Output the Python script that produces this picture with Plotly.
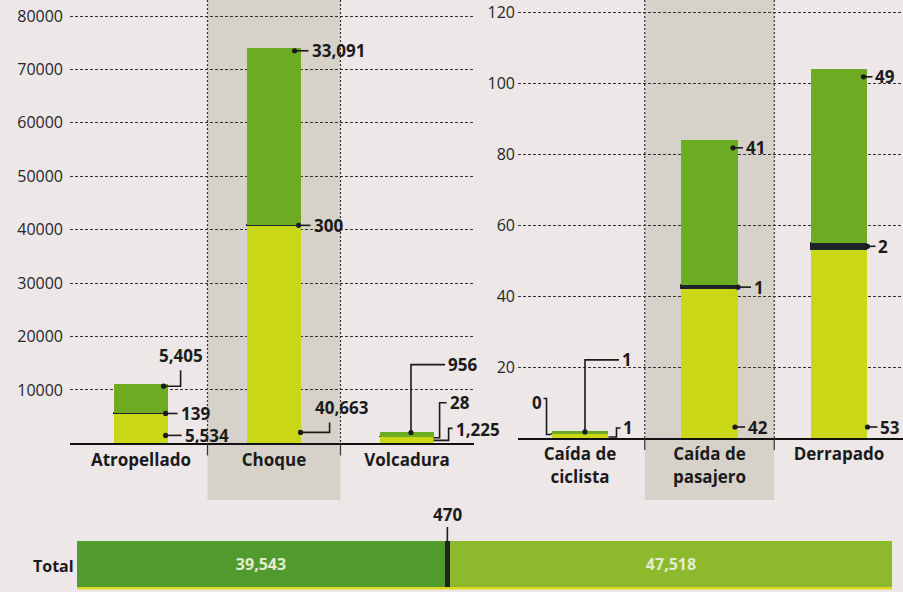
import plotly.graph_objects as go

W, H = 903, 592

# ---------------- data ----------------
cats_left = ["Atropellado", "Choque", "Volcadura"]
top_left = [5405, 33091, 956]      # dark green segment
mid_left = [139, 300, 28]          # black segment
bot_left = [5534, 40663, 1225]     # yellow-green segment

cats_right = ["Caída de<br>ciclista", "Caída de<br>pasajero", "Derrapado"]
top_right = [1, 41, 49]
mid_right = [0, 1, 2]
bot_right = [1, 42, 53]

ticks_left = [10000, 20000, 30000, 40000, 50000, 60000, 70000, 80000]
ticks_right = [20, 40, 60, 80, 100, 120]

total_name = "Total"

# ---------------- style ----------------
BG = "#ede7e8"
BAND = "#d6d2ca"
C_TOP = "#6dac22"
C_BOT = "#c9d716"
C_MID = "#1c2428"
C_TOT_TOP = "#519a2d"
C_TOT_BOT = "#8dba2c"
INK = "#1b1b1b"
FONT = "Open Sans"

# geometry (pixels)
G = {
    "L": dict(px0=70, px1=474, c0=141, step=133, base=443.4, ppu=427.4 / 80000, bw=0.40,
              xa="x", ya="y", standoff=6),
    "R": dict(px0=518, px1=903, c0=580, step=129.5, base=438.0, ppu=426.0 / 120, bw=0.44,
              xa="x2", ya="y2", standoff=2),
}
TOT = dict(px0=77, px1=892, py0=541, py1=587)


def fmt(v):
    return f"{v:,}"


def P(px, py):
    return px / W, 1 - py / H


fig = go.Figure()

charts = [
    ("L", cats_left, top_left, mid_left, bot_left, ticks_left),
    ("R", cats_right, top_right, mid_right, bot_right, ticks_right),
]

shapes = []
annotations = []

for key, cats, top, mid, bot, ticks in charts:
    g = G[key]
    xs = list(range(len(cats)))
    for vals, col, lw in [(bot, C_BOT, 0), (mid, C_MID, 1.2), (top, C_TOP, 0)]:
        fig.add_trace(go.Bar(
            x=xs, y=vals, width=g["bw"], xaxis=g["xa"], yaxis=g["ya"],
            marker=dict(color=col, line=dict(color=col, width=lw)),
            hoverinfo="skip", showlegend=False))

    # band behind the middle category + dotted separators
    xl = g["c0"] + g["step"] * 0.5
    xr = g["c0"] + g["step"] * 1.5
    x0p, y0p = P(xl, 500)
    x1p, y1p = P(xr, 0)
    shapes.append(dict(type="rect", xref="paper", yref="paper", x0=x0p, x1=x1p,
                       y0=y0p, y1=y1p, fillcolor=BAND, line=dict(width=0), layer="below"))
    for xv in (xl, xr):
        a = P(xv, 0)
        b = P(xv, g["base"])
        c = P(xv, g["base"] + 12)
        shapes.append(dict(type="line", xref="paper", yref="paper", x0=a[0], x1=b[0],
                           y0=a[1], y1=b[1], line=dict(color="#333", width=1.2, dash="2px,2px"),
                           layer="below"))
        shapes.append(dict(type="line", xref="paper", yref="paper", x0=b[0], x1=c[0],
                           y0=b[1], y1=c[1], line=dict(color="#333", width=1.2)))

# ---------------- value labels with leader lines ----------------
# (chart, index, segment, anchor side, anchor dx, anchor dy, path, text pos, xanchor, yanchor, dot)
labels = [
    ("L", 0, "top", "r", -4, 2, [(0, 0), (17, 0), (17, -16)], (17, -17), "center", "bottom", True),
    ("L", 0, "mid", "r", -2, 0, [(0, 0), (12, 0)], (13, 0), "left", "middle", True),
    ("L", 0, "bot", "r", -2, -8, [(0, 0), (16, 0)], (17, 0), "left", "middle", True),
    ("L", 1, "top", "r", -6, 3, [(0, 0), (14, 0)], (15, 0), "left", "middle", True),
    ("L", 1, "mid", "r", -2, 0, [(0, 0), (12, 0)], (13, 0), "left", "middle", True),
    ("L", 1, "bot", "r", 0, -11, [(0, 0), (29, 0), (29, -10)], (41, -11), "center", "bottom", True),
    ("L", 2, "top", "c", 4, 1, [(0, 0), (0, -68), (34, -68)], (35, -68), "left", "middle", True),
    ("L", 2, "mid", "r", 0, 1, [(0, 0), (6, 0), (6, -35), (13, -35)], (14, -35), "left", "middle", False),
    ("L", 2, "bot", "r", 0, -3, [(0, 0), (15, 0), (15, -12), (19, -12)], (20, -11), "left", "middle", False),
    ("R", 0, "top", "c", 5, 1, [(0, 0), (0, -72), (34, -72)], (35, -72), "left", "middle", True),
    ("R", 0, "mid", "l", 0, 0, [(0, 0), (-5, 0), (-5, -36), (-8, -36)], (-8, -32), "right", "middle", False),
    ("R", 0, "bot", "r", 0, -1, [(0, 0), (8, 0), (8, -9), (12, -9)], (13, -10), "left", "middle", False),
    ("R", 1, "top", "r", -5, 8, [(0, 0), (10, 0)], (11, 0), "left", "middle", True),
    ("R", 1, "mid", "r", 0, 0, [(0, 0), (13, 0)], (14, 0), "left", "middle", True),
    ("R", 1, "bot", "r", -3, -11, [(0, 0), (10, 0)], (11, 0), "left", "middle", True),
    ("R", 2, "top", "r", -4, 8, [(0, 0), (9, 0)], (10, 0), "left", "middle", True),
    ("R", 2, "mid", "r", 0, 0, [(0, 0), (8, 0)], (9, 0), "left", "middle", True),
    ("R", 2, "bot", "r", 0, -11, [(0, 0), (10, 0)], (11, 0), "left", "middle", True),
]

data = {"L": (top_left, mid_left, bot_left), "R": (top_right, mid_right, bot_right)}

for key, i, seg, side, adx, ady, path, tpos, xan, yan, dot in labels:
    g = G[key]
    top, mid, bot = data[key]
    cx = g["c0"] + g["step"] * i
    half = g["bw"] * g["step"] / 2
    if seg == "top":
        val = top[i]
        yref = g["base"] - g["ppu"] * (top[i] + mid[i] + bot[i])
    elif seg == "mid":
        val = mid[i]
        yref = g["base"] - g["ppu"] * (bot[i] + mid[i] / 2)
    else:
        val = bot[i]
        yref = g["base"]
    ax = {"r": cx + half, "l": cx - half, "c": cx}[side] + adx
    ay = yref + ady
    pts = [P(ax + dx, ay + dy) for dx, dy in path]
    d = "M " + " L ".join(f"{x:.5f},{y:.5f}" for x, y in pts)
    shapes.append(dict(type="path", xref="paper", yref="paper", path=d,
                       line=dict(color=INK, width=1.6)))
    if dot:
        r = 2.6
        a = P(ax - r, ay + r)
        b = P(ax + r, ay - r)
        shapes.append(dict(type="circle", xref="paper", yref="paper", x0=a[0], y0=a[1],
                           x1=b[0], y1=b[1], fillcolor=INK, line=dict(width=0)))
    tx, ty = P(ax + tpos[0], ay + tpos[1])
    annotations.append(dict(xref="paper", yref="paper", x=tx, y=ty, text=fmt(val),
                            showarrow=False, xanchor=xan, yanchor=yan,
                            font=dict(family=FONT, size=17, color=INK, weight="bold")))

# ---------------- total bar ----------------
tot_top = sum(top_left) + sum(top_right)
tot_mid = sum(mid_left) + sum(mid_right)
tot_bot = sum(bot_left) + sum(bot_right)
grand = tot_top + tot_mid + tot_bot

for val, col, txt in [(tot_top, C_TOT_TOP, fmt(tot_top)), (tot_mid, C_MID, ""),
                      (tot_bot, C_TOT_BOT, fmt(tot_bot))]:
    fig.add_trace(go.Bar(
        x=[val], y=[0], orientation="h", width=1, xaxis="x3", yaxis="y3",
        marker=dict(color=col, line=dict(width=0)), text=[txt], textposition="inside",
        insidetextanchor="middle", textangle=0,
        textfont=dict(family=FONT, size=16, color="#e4ecd0", weight="bold"),
        hoverinfo="skip", showlegend=False))

# yellow underline below total bar
a = P(TOT["px0"], TOT["py1"])
b = P(TOT["px1"], TOT["py1"] + 2.5)
shapes.append(dict(type="rect", xref="paper", yref="paper", x0=a[0], x1=b[0], y0=b[1], y1=a[1],
                   fillcolor="#dcd81e", line=dict(width=0)))

mid_px = TOT["px0"] + (TOT["px1"] - TOT["px0"]) * (tot_top + tot_mid / 2) / grand
a = P(mid_px, TOT["py0"])
b = P(mid_px, 527)
shapes.append(dict(type="line", xref="paper", yref="paper", x0=a[0], x1=b[0], y0=a[1], y1=b[1],
                   line=dict(color=INK, width=1.6)))
tx, ty = P(mid_px, 528)
annotations.append(dict(xref="paper", yref="paper", x=tx, y=ty, text=fmt(tot_mid),
                        showarrow=False, xanchor="center", yanchor="bottom",
                        font=dict(family=FONT, size=17, color=INK, weight="bold")))
tx, ty = P(TOT["px0"] - 1, (TOT["py0"] + TOT["py1"]) / 2 + 2)
annotations.append(dict(xref="paper", yref="paper", x=tx, y=ty, text=total_name,
                        showarrow=False, xanchor="right", yanchor="middle",
                        font=dict(family=FONT, size=16, color=INK, weight="bold")))

# ---------------- axes ----------------
def xaxis_cfg(g, cats):
    return dict(domain=[g["px0"] / W, g["px1"] / W],
                range=[(g["px0"] - g["c0"]) / g["step"], (g["px1"] - g["c0"]) / g["step"]],
                tickvals=list(range(len(cats))), ticktext=cats, ticks="",
                showgrid=False, zeroline=False, showline=True, linecolor="#111", linewidth=2,
                tickfont=dict(family=FONT, size=17, color=INK, weight="bold"), fixedrange=True)


def yaxis_cfg(g, ticks, anchor):
    return dict(domain=[1 - g["base"] / H, 1], range=[0, g["base"] / g["ppu"]],
                tickvals=ticks, ticktext=[str(t) for t in ticks], ticks="",
                ticklabelstandoff=g["standoff"],
                showgrid=True, gridcolor="#333333", gridwidth=1, griddash="3px,2px",
                zeroline=False, showline=False, anchor=anchor,
                tickfont=dict(family=FONT, size=16, color="#262626"), fixedrange=True)


gL, gR = G["L"], G["R"]
fig.update_layout(
    width=W, height=H, margin=dict(l=0, r=0, t=0, b=0),
    paper_bgcolor=BG, plot_bgcolor="rgba(0,0,0,0)",
    barmode="stack", bargap=0, showlegend=False, hovermode=False,
    xaxis=dict(xaxis_cfg(gL, cats_left), anchor="y"),
    yaxis=yaxis_cfg(gL, ticks_left, "x"),
    xaxis2=dict(xaxis_cfg(gR, cats_right), anchor="y2"),
    yaxis2=yaxis_cfg(gR, ticks_right, "x2"),
    xaxis3=dict(domain=[TOT["px0"] / W, TOT["px1"] / W], range=[0, grand], visible=False,
                anchor="y3", fixedrange=True),
    yaxis3=dict(domain=[1 - TOT["py1"] / H, 1 - TOT["py0"] / H], range=[-0.5, 0.5],
                visible=False, anchor="x3", fixedrange=True),
    shapes=shapes, annotations=annotations,
)

fig.write_html("out.html", config={"displayModeBar": False})

# remove the browser's default page margin so the figure fills the window exactly
with open("out.html", encoding="utf-8") as f:
    html = f.read()
html = html.replace("<head>", "<head><style>html,body{margin:0;padding:0;overflow:hidden;"
                    "background:" + BG + ";}</style>", 1)
with open("out.html", "w", encoding="utf-8") as f:
    f.write(html)
